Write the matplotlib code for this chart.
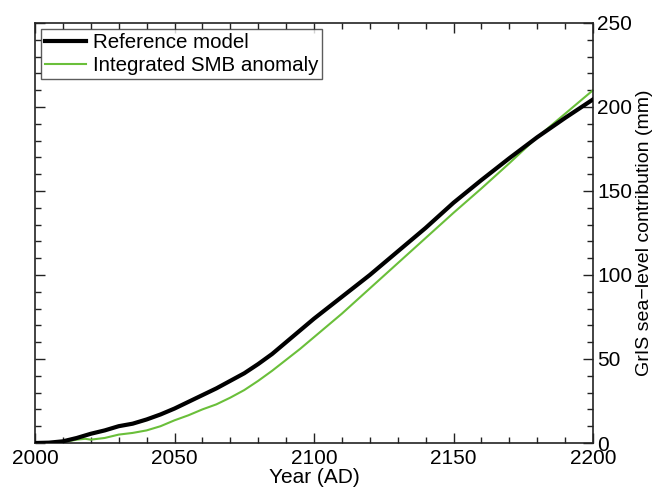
import matplotlib
matplotlib.use("Agg")
import matplotlib.pyplot as plt
from matplotlib.ticker import MultipleLocator

plt.rcParams['font.family'] = ['Liberation Sans', 'DejaVu Sans']

years_ref = [2000, 2005, 2010, 2015, 2020, 2025, 2030, 2035, 2040, 2045, 2050,
             2055, 2060, 2065, 2070, 2075, 2080, 2085, 2090, 2095, 2100,
             2110, 2120, 2130, 2140, 2150, 2160, 2170, 2180, 2190, 2200]
ref_model = [0, 0.2, 1, 3, 5.5, 7.5, 10, 11.5, 14, 17, 20.5,
             24.5, 28.5, 32.5, 37, 41.5, 47, 53, 60, 67, 74,
             87, 100, 114, 128, 143, 156.5, 169.5, 182, 193.5, 204.5]

years_smb = [2000, 2005, 2010, 2015, 2018, 2020, 2025, 2030, 2035, 2040, 2045, 2050,
             2055, 2060, 2065, 2070, 2075, 2080, 2085, 2090, 2095, 2100,
             2110, 2120, 2130, 2140, 2150, 2160, 2170, 2180, 2190, 2200]
smb_anomaly = [0, 0, 0.5, 2, 2.5, 2, 3, 5, 6, 7.5, 10, 13.5,
               16.5, 20, 23, 27, 31.5, 37, 43, 49.5, 56, 63,
               77, 92, 107, 122, 137, 151.5, 166.5, 182, 196, 210]

x_ticks = [2000, 2050, 2100, 2150, 2200]
y_ticks = [0, 50, 100, 150, 200, 250]

fig = plt.figure(figsize=(6.56, 4.90), dpi=100)
ax = fig.add_axes([35/656, 47/490, (593-35)/656, (443-23)/490])

ax.plot(years_ref, ref_model, color='black', lw=3.0, label='Reference model', zorder=3)
ax.plot(years_smb, smb_anomaly, color='#6abf3a', lw=1.5, label='Integrated SMB anomaly', zorder=2)

ax.set_xlim(2000, 2200)
ax.set_ylim(0, 250)
ax.set_xticks(x_ticks)
ax.set_yticks(y_ticks)
ax.xaxis.set_minor_locator(MultipleLocator(10))
ax.yaxis.set_minor_locator(MultipleLocator(10))
ax.yaxis.tick_right()
ax.yaxis.set_label_position('right')
ax.tick_params(which='both', direction='in', top=True, bottom=True, left=True, right=True,
               labelsize=15, width=1.0, color='#222222')
ax.tick_params(which='major', length=7)
ax.tick_params(which='minor', length=4)
ax.tick_params(axis='x', pad=4)
ax.tick_params(axis='y', pad=3)
for s in ax.spines.values():
    s.set_linewidth(1.2)
    s.set_color('#222222')

ax.set_xlabel('Year (AD)', fontsize=15, labelpad=0)
ax.set_ylabel('GrIS sea\u2212level contribution (mm)', fontsize=14, labelpad=3)

leg = ax.legend(loc='upper left', fontsize=14.8, frameon=True, fancybox=False,
                edgecolor='#333333', handlelength=2.0, handletextpad=0.3,
                borderpad=0.2, labelspacing=0.2, borderaxespad=0.3)
leg.get_frame().set_linewidth(1.0)

fig.savefig('out.png', dpi=100)
